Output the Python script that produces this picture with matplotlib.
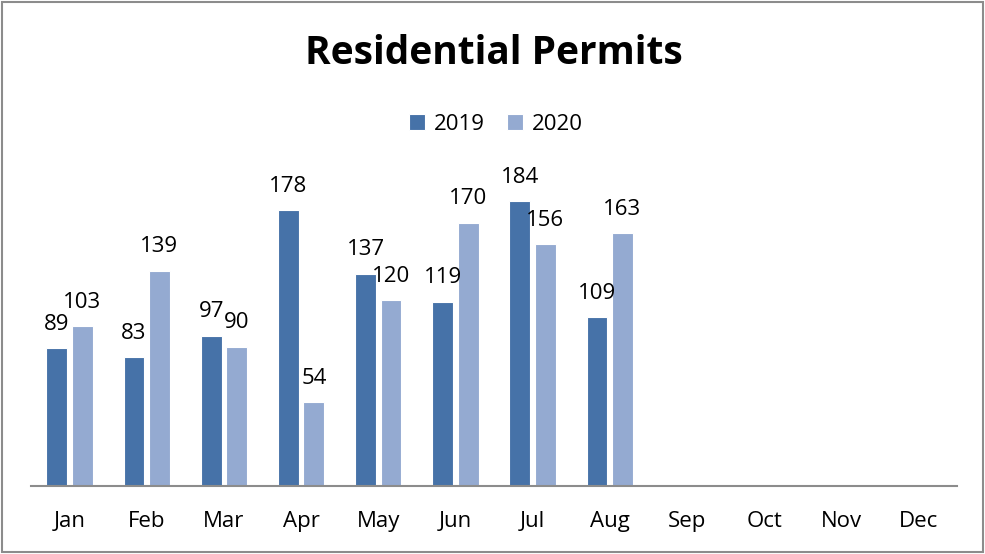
import matplotlib
matplotlib.use("Agg")
import matplotlib.pyplot as plt
import numpy as np
from matplotlib.patches import Rectangle

months = ["Jan", "Feb", "Mar", "Apr", "May", "Jun", "Jul", "Aug", "Sep", "Oct", "Nov", "Dec"]
series_names = ["2019", "2020"]
vals_2019 = [89, 83, 97, 178, 137, 119, 184, 109]
vals_2020 = [103, 139, 90, 54, 120, 170, 156, 163]

plt.rcParams['font.family'] = ['Open Sans', 'DejaVu Sans']

c19 = "#4672A8"
c20 = "#94AAD1"

fig = plt.figure(figsize=(9.85, 5.54), dpi=100)
ax = fig.add_axes([31/985, 68/554, (957-31)/985, (486-176)/554])

x = np.arange(len(months))
w = 0.27
off = 0.165
b1 = ax.bar(x[:len(vals_2019)] - off, vals_2019, w, color=c19, edgecolor="white", linewidth=0.8, label=series_names[0])
b2 = ax.bar(x[:len(vals_2020)] + off, vals_2020, w, color=c20, edgecolor="white", linewidth=0.8, label=series_names[1])

for bars, vals in ((b1, vals_2019), (b2, vals_2020)):
    for r, v in zip(bars, vals):
        ax.annotate(str(v), (r.get_x() + r.get_width()/2, r.get_height()),
                    xytext=(0, 9.5), textcoords="offset points", ha="center", va="bottom", fontsize=16)

ax.set_xlim(-0.5, len(months) - 0.5)
ax.set_ylim(0, 200)
ax.set_xticks(x)
ax.set_xticklabels(months, fontsize=16)
ax.tick_params(axis="x", length=0, pad=18)
ax.set_yticks([])
for s in ("top", "right", "left"):
    ax.spines[s].set_visible(False)
ax.spines["bottom"].set_color("#8C8C8C")
ax.spines["bottom"].set_linewidth(1.5)
ax.patch.set_visible(False)

fig.text(494/985, 1 - 53/554, "Residential Permits", ha="center", va="center", fontsize=28, fontweight="bold")
leg = fig.legend(handles=[b1, b2], loc="center", bbox_to_anchor=(496/985, 1 - 124/554), ncol=2,
                 frameon=False, fontsize=16, handlelength=0.7, handleheight=0.7, columnspacing=1.0, handletextpad=0.4)

fig.patches.append(Rectangle((0.002, 0.004), 0.996, 0.992, transform=fig.transFigure, fill=False,
                             edgecolor="#8C8C8C", linewidth=1.5))

fig.savefig("out.png", dpi=100)
